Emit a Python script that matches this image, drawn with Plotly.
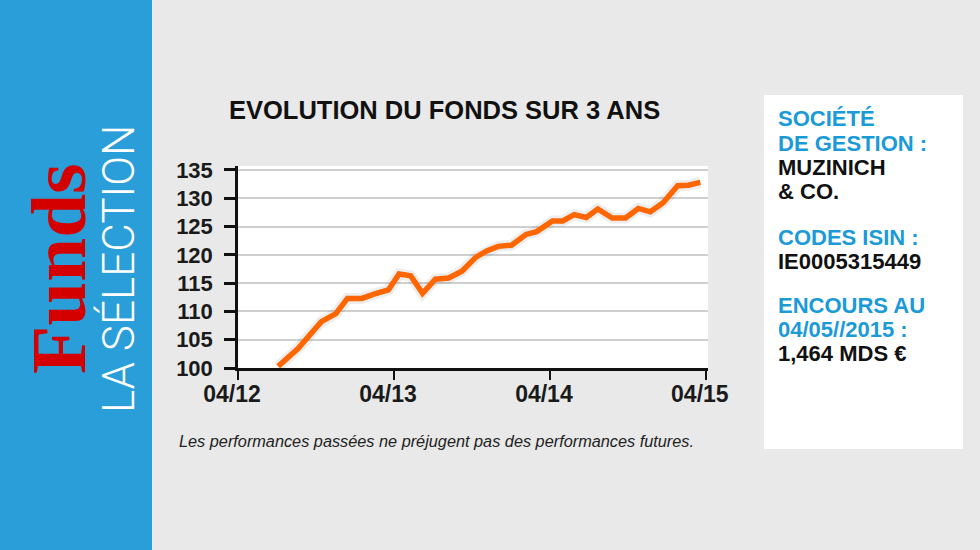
import plotly.graph_objects as go

# ---- data ----
dates = ["2012-07-04", "2012-08-19", "2012-10-13", "2012-11-16", "2012-12-13",
         "2013-01-16", "2013-02-15", "2013-03-19", "2013-04-13", "2013-05-10",
         "2013-06-07", "2013-07-07", "2013-08-07", "2013-09-07", "2013-10-10",
         "2013-11-04", "2013-12-01", "2014-01-01", "2014-02-04", "2014-03-01",
         "2014-04-07", "2014-05-01", "2014-05-28", "2014-06-25", "2014-07-22",
         "2014-08-25", "2014-09-25", "2014-10-25", "2014-11-22", "2014-12-22",
         "2015-01-25", "2015-02-19", "2015-03-19"]
values = [100.3, 103.4, 108.2, 109.6, 112.3,
          112.3, 113.1, 113.8, 116.6, 116.3,
          113.2, 115.7, 115.9, 117.1, 119.6,
          120.7, 121.5, 121.7, 123.6, 124.1,
          126.0, 126.0, 127.1, 126.6, 128.1,
          126.5, 126.5, 128.2, 127.6, 129.2,
          132.2, 132.3, 132.8]

x_tick_vals = ["2012-04-01", "2013-04-01", "2014-04-01", "2015-04-01"]
x_tick_text = ["04/12", "04/13", "04/14", "04/15"]
y_tick_vals = [100, 105, 110, 115, 120, 125, 130, 135]

title_text = "EVOLUTION DU FONDS SUR 3 ANS"
footer_text = "Les performances passées ne préjugent pas des performances futures."
side_lines = [
    ("SOCIÉTÉ", "#1b9ad8"),
    ("DE GESTION :", "#1b9ad8"),
    ("MUZINICH", "#111111"),
    ("& CO.", "#111111"),
    ("CODES ISIN :", "#1b9ad8"),
    ("IE0005315449", "#111111"),
    ("ENCOURS AU", "#1b9ad8"),
    ("04/05//2015 :", "#1b9ad8"),
    ("1,464 MDS €", "#111111"),
]
side_y_px = [119, 143, 167, 191, 237, 261, 305, 329, 353]

W, H = 980, 550
def px(x):
    return x / W
def py(y):
    return 1 - y / H

fig = go.Figure()
fig.add_trace(go.Scatter(
    x=dates, y=values, mode="lines",
    line=dict(color="rgba(0,0,0,0.07)", width=11),
    hoverinfo="skip", showlegend=False,
))
fig.add_trace(go.Scatter(
    x=dates, y=values, mode="lines",
    line=dict(color="#ff6600", width=5.5),
    hoverinfo="skip", showlegend=False,
))

sans = "Liberation Sans, Arial, sans-serif"

fig.update_layout(
    template="none",
    width=W, height=H,
    margin=dict(l=0, r=0, t=0, b=0, pad=0, autoexpand=False),
    paper_bgcolor="#e9e9e9",
    plot_bgcolor="#ffffff",
    showlegend=False,
    xaxis=dict(
        domain=[px(238), px(708)],
        range=["2012-04-01", "2015-04-06"],
        type="date",
        tickvals=x_tick_vals, ticktext=x_tick_text,
        ticks="outside", ticklen=9, tickwidth=2, tickcolor="#111111",
        ticklabelstandoff=-5, ticklabelshift=-6,
        showline=True, linecolor="#111111", linewidth=2.5,
        showgrid=False, zeroline=False, automargin=False,
        tickfont=dict(family=sans, size=23, color="#1a1a1a", weight="bold"),
        fixedrange=True,
    ),
    yaxis=dict(
        domain=[py(368), py(166)],
        range=[100, 135.7],
        tickvals=y_tick_vals,
        ticks="outside", ticklen=11, tickwidth=2.5, tickcolor="#111111",
        ticklabelstandoff=7,
        showline=True, linecolor="#111111", linewidth=2.5,
        showgrid=True, gridcolor="#cfcfcf", gridwidth=1.5,
        zeroline=False, automargin=False,
        tickfont=dict(family=sans, size=22, color="#1a1a1a", weight="bold"),
        fixedrange=True,
    ),
)

shapes = [
    dict(type="rect", xref="paper", yref="paper",
         x0=0, x1=px(152), y0=0, y1=1,
         fillcolor="#2a9ed8", line=dict(width=0), layer="below"),
    dict(type="rect", xref="paper", yref="paper",
         x0=px(764), x1=px(963), y0=py(449), y1=py(95),
         fillcolor="#ffffff", line=dict(width=0), layer="below"),
]
fig.update_layout(shapes=shapes)

annotations = [
    dict(text=title_text, xref="paper", yref="paper",
         x=px(444), y=py(110), xanchor="center", yanchor="middle",
         showarrow=False,
         font=dict(family=sans, size=25.5, color="#111111", weight="bold")),
    dict(text="<i>" + footer_text + "</i>", xref="paper", yref="paper",
         x=px(177), y=py(441), xanchor="left", yanchor="middle",
         showarrow=False,
         font=dict(family="Liberation Sans Narrow, Arial Narrow, sans-serif",
                   size=16.3, color="#222222")),
    dict(text="Funds", xref="paper", yref="paper",
         x=px(59), y=py(269), xanchor="center", yanchor="middle",
         textangle=-90, showarrow=False,
         font=dict(family="Liberation Serif, Times New Roman, serif",
                   size=79, color="#d40000", weight="bold")),
    dict(text="LA SÉLECTION", xref="paper", yref="paper",
         x=px(119), y=py(269), xanchor="center", yanchor="middle",
         textangle=-90, showarrow=False,
         font=dict(family="Roboto, Liberation Sans, sans-serif",
                   size=44, color="#ffffff", weight=300)),
]
for (txt, col), ypx in zip(side_lines, side_y_px):
    annotations.append(dict(
        text=txt, xref="paper", yref="paper",
        x=px(776), y=py(ypx), xanchor="left", yanchor="middle",
        showarrow=False,
        font=dict(family=sans, size=22, color=col, weight="bold")))
fig.update_layout(annotations=annotations)

fig.write_html("out.html",
               config={"displayModeBar": False},
               post_script="document.body.style.margin='0';"
                           "document.body.style.overflow='hidden';")
